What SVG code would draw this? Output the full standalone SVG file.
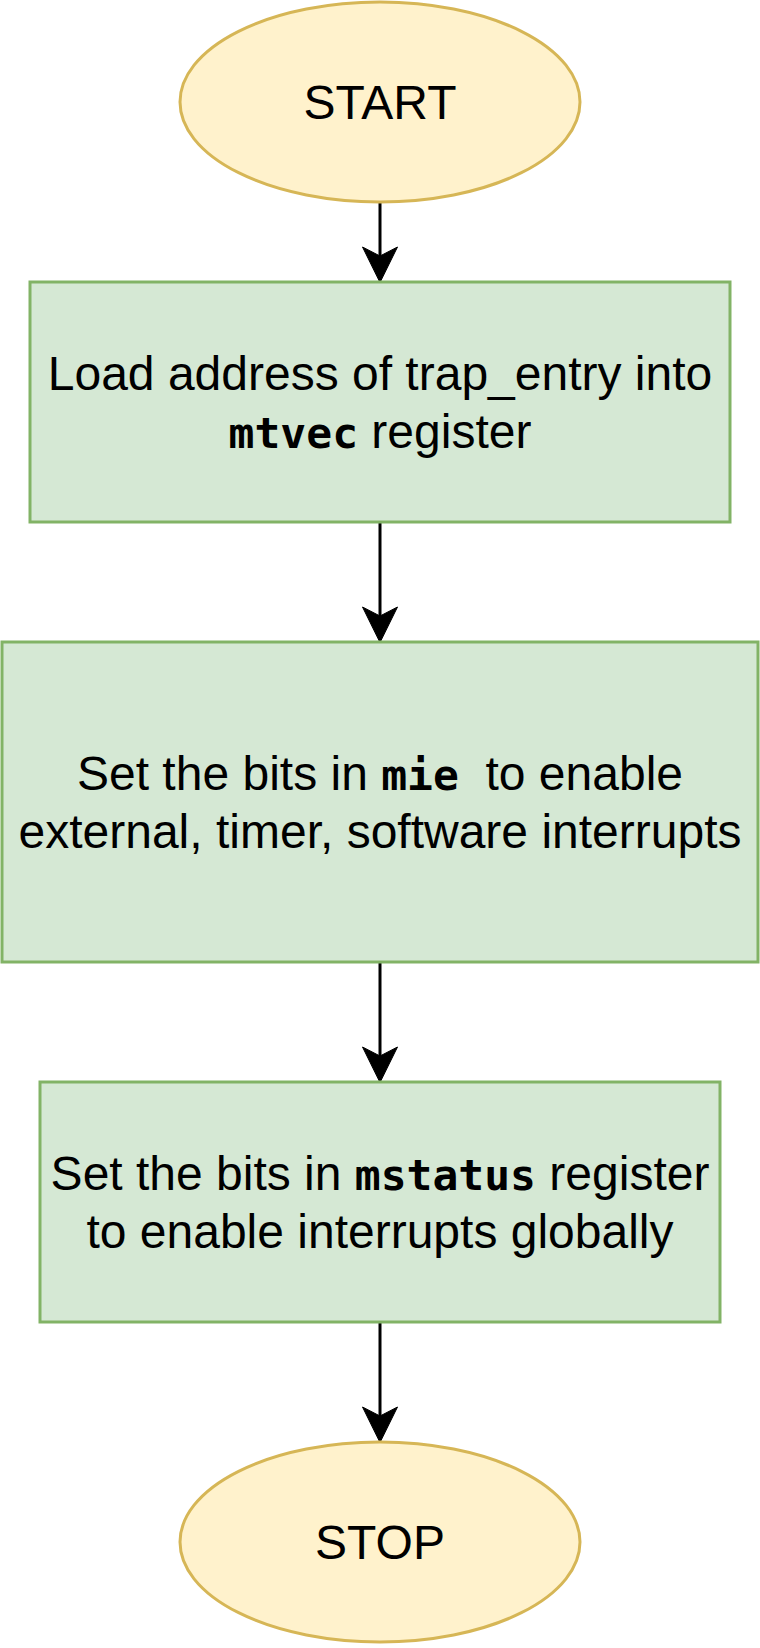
<svg xmlns="http://www.w3.org/2000/svg" width="760" height="1648" viewBox="0 0 760 1648">
  <style>
    .term { fill: #fff2cc; stroke: #d6b656; stroke-width: 3; }
    .proc { fill: #d5e8d4; stroke: #82b366; stroke-width: 3; }
    .lbl { font-family: "Liberation Sans", Arial, Helvetica, sans-serif; font-size: 48px; fill: #000000; text-anchor: middle; }
    .code { font-family: "DejaVu Sans Mono", "Liberation Mono", monospace; font-weight: bold; font-size: 43px; }
    .edge { stroke: #000000; stroke-width: 3; fill: none; marker-end: url(#arrow); }
  </style>
  <defs>
    <marker id="arrow" markerUnits="userSpaceOnUse" markerWidth="40" markerHeight="40" viewBox="0 0 40 40" refX="11" refY="20" orient="auto">
      <path d="M2,2.5 L37.5,20 L2,37.5 L11,20 Z" fill="#000000" stroke="#000000" stroke-width="1" stroke-linejoin="miter"/>
    </marker>
  </defs>

  <g id="connectors">
    <line class="edge" x1="380" y1="202" x2="380" y2="256"/>
    <line class="edge" x1="380" y1="522" x2="380" y2="616"/>
    <line class="edge" x1="380" y1="962" x2="380" y2="1056"/>
    <line class="edge" x1="380" y1="1322" x2="380" y2="1416"/>
  </g>

  <g id="start">
    <ellipse class="term" cx="380" cy="102" rx="200" ry="100"/>
    <text class="lbl" x="380" y="119">START</text>
  </g>

  <g id="load-mtvec">
    <rect class="proc" x="30" y="282" width="700" height="240"/>
    <text class="lbl" x="380" y="390">Load address of trap_entry into</text>
    <text class="lbl" x="380" y="447.6"><tspan class="code">mtvec</tspan> register</text>
  </g>

  <g id="set-mie">
    <rect class="proc" x="2" y="642" width="756" height="320"/>
    <text class="lbl" x="380" y="790" xml:space="preserve">Set the bits in <tspan class="code">mie</tspan>  to enable</text>
    <text class="lbl" x="380" y="847.6">external, timer, software interrupts</text>
  </g>

  <g id="set-mstatus">
    <rect class="proc" x="40" y="1082" width="680" height="240"/>
    <text class="lbl" x="380" y="1190">Set the bits in <tspan class="code">mstatus</tspan> register</text>
    <text class="lbl" x="380" y="1247.6">to enable interrupts globally</text>
  </g>

  <g id="stop">
    <ellipse class="term" cx="380" cy="1542" rx="200" ry="100"/>
    <text class="lbl" x="380" y="1559">STOP</text>
  </g>
</svg>
